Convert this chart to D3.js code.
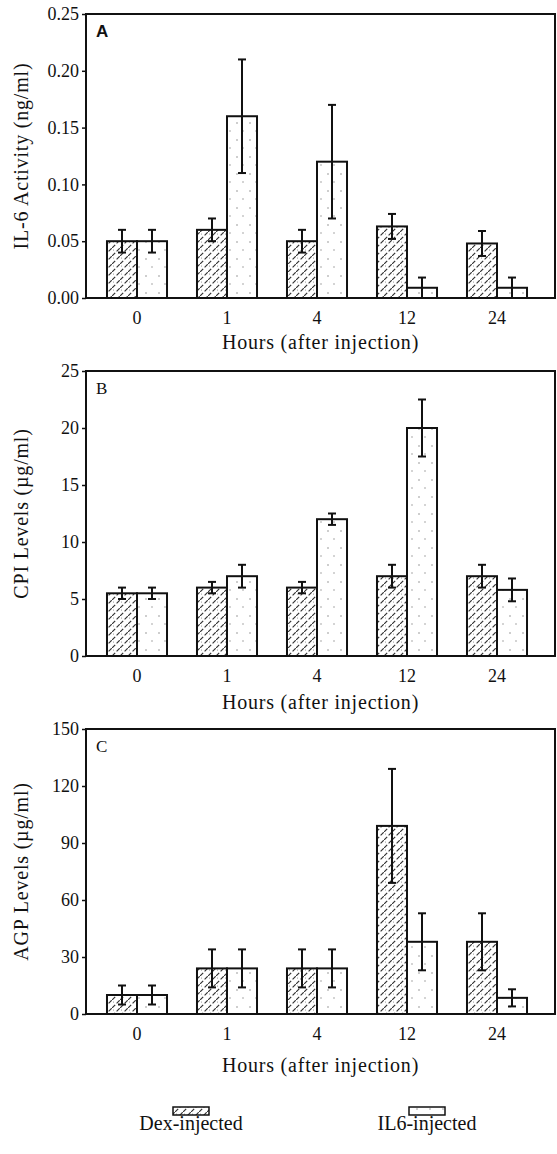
<!DOCTYPE html>
<html>
<head>
<meta charset="utf-8">
<script src="https://cdn.jsdelivr.net/npm/d3@7"></script>
<style>
  body { margin: 0; background: #fff; }
  text { font-family: "Liberation Serif", "Times New Roman", serif; fill: #111; }
</style>
</head>
<body>
<div id="chart"></div>
<script>
// data (mean and error for each group)
var hours = ["0", "1", "4", "12", "24"];
var series = ["Dex-injected", "IL6-injected"];

var il6Dex = [0.05, 0.06, 0.05, 0.063, 0.048];
var il6DexErr = [0.01, 0.01, 0.01, 0.011, 0.011];
var il6Il6 = [0.05, 0.16, 0.12, 0.009, 0.009];
var il6Il6Err = [0.01, 0.05, 0.05, 0.009, 0.009];

var cpiDex = [5.5, 6, 6, 7, 7];
var cpiDexErr = [0.5, 0.5, 0.5, 1, 1];
var cpiIl6 = [5.5, 7, 12, 20, 5.8];
var cpiIl6Err = [0.5, 1, 0.5, 2.5, 1];

var agpDex = [10, 24, 24, 99, 38];
var agpDexErr = [5, 10, 10, 30, 15];
var agpIl6 = [10, 24, 24, 38, 8.5];
var agpIl6Err = [5, 10, 10, 15, 4.5];

var ticksA = [0, 0.05, 0.10, 0.15, 0.20, 0.25];
var ticksB = [0, 5, 10, 15, 20, 25];
var ticksC = [0, 30, 60, 90, 120, 150];

var width = 557;
var height = 1154;
var left = 86, right = 555;

var panels = [
  {letter: "A", title: "IL-6 Activity (ng/ml)", top: 14, bottom: 298, ticks: ticksA, fmt: d3.format(".2f"),
   dex: il6Dex, dexErr: il6DexErr, il6: il6Il6, il6Err: il6Il6Err, letterFont: "Liberation Sans", titleGap: 51},
  {letter: "B", title: "CPI Levels (\u00b5g/ml)", top: 371, bottom: 656, ticks: ticksB, fmt: d3.format("d"),
   dex: cpiDex, dexErr: cpiDexErr, il6: cpiIl6, il6Err: cpiIl6Err, letterFont: "Liberation Serif", titleGap: 53},
  {letter: "C", title: "AGP Levels (\u00b5g/ml)", top: 729, bottom: 1014, ticks: ticksC, fmt: d3.format("d"),
   dex: agpDex, dexErr: agpDexErr, il6: agpIl6, il6Err: agpIl6Err, letterFont: "Liberation Serif", titleGap: 58}
];

var svg = d3.select("#chart")
            .append("svg")
            .attr("width", width)
            .attr("height", height);

// fill patterns: dashed diagonal hatch for Dex, sparse stipple for IL6
var defs = svg.append("defs");
var hatch = defs.append("pattern")
            .attr("id", "hatch")
            .attr("patternUnits", "userSpaceOnUse")
            .attr("width", 8)
            .attr("height", 8);
hatch.append("rect").attr("width", 8).attr("height", 8).attr("fill", "#fff");
hatch.append("path")
     .attr("d", "M0,8 L8,0")
     .attr("stroke", "#333")
     .attr("stroke-width", 1.2)
     .attr("stroke-dasharray", "4.5,2");
hatch.append("circle").attr("cx", 1.5).attr("cy", 2).attr("r", 0.5).attr("fill", "#777");

var dots = defs.append("pattern")
            .attr("id", "dots")
            .attr("patternUnits", "userSpaceOnUse")
            .attr("width", 13)
            .attr("height", 17);
dots.append("rect").attr("width", 13).attr("height", 17).attr("fill", "#fff");
dots.append("circle").attr("cx", 3).attr("cy", 4).attr("r", 0.7).attr("fill", "#777");
dots.append("circle").attr("cx", 9).attr("cy", 12).attr("r", 0.7).attr("fill", "#888");

var fills = {"Dex-injected": "url(#hatch)", "IL6-injected": "url(#dots)"};

var x = d3.scaleBand()
          .domain(hours)
          .range([92, 542])
          .paddingInner(0.333)
          .paddingOuter(0.1665);
var xs = d3.scaleBand()
           .domain(series)
           .range([0, x.bandwidth()]);

panels.forEach(function(p) {
  var y = d3.scaleLinear()
            .domain([p.ticks[0], p.ticks[p.ticks.length - 1]])
            .range([p.bottom, p.top]);
  var g = svg.append("g");

  var rows = [];
  hours.forEach(function(h, i) {
    rows.push({hour: h, s: series[0], v: p.dex[i], e: p.dexErr[i]});
    rows.push({hour: h, s: series[1], v: p.il6[i], e: p.il6Err[i]});
  });

  // bars
  g.selectAll("rect.bar")
   .data(rows)
   .enter()
   .append("rect")
   .attr("class", "bar")
   .attr("x", function(d) { return x(d.hour) + xs(d.s); })
   .attr("y", function(d) { return y(d.v); })
   .attr("width", xs.bandwidth())
   .attr("height", function(d) { return y(0) - y(d.v); })
   .attr("fill", function(d) { return fills[d.s]; })
   .attr("stroke", "#111")
   .attr("stroke-width", 2);

  // error bars
  var eb = g.selectAll("g.err")
            .data(rows)
            .enter()
            .append("g")
            .attr("class", "err")
            .attr("stroke", "#111")
            .attr("stroke-width", 2);
  var cx = function(d) { return x(d.hour) + xs(d.s) + xs.bandwidth() / 2; };
  eb.append("line")
    .attr("x1", cx).attr("x2", cx)
    .attr("y1", function(d) { return y(d.v + d.e); })
    .attr("y2", function(d) { return y(Math.max(0, d.v - d.e)); });
  [1, -1].forEach(function(sign) {
    eb.append("line")
      .attr("x1", function(d) { return cx(d) - 4; })
      .attr("x2", function(d) { return cx(d) + 4; })
      .attr("y1", function(d) { return y(Math.max(0, d.v + sign * d.e)); })
      .attr("y2", function(d) { return y(Math.max(0, d.v + sign * d.e)); });
  });

  // frame
  g.append("rect")
   .attr("x", left)
   .attr("y", p.top)
   .attr("width", right - left)
   .attr("height", p.bottom - p.top)
   .attr("fill", "none")
   .attr("stroke", "#111")
   .attr("stroke-width", 2);

  // y axis
  var ya = g.append("g")
            .attr("transform", "translate(" + left + ",0)")
            .call(d3.axisLeft(y).tickValues(p.ticks).tickFormat(p.fmt).tickSize(4).tickPadding(3));
  ya.select(".domain").remove();
  ya.selectAll("line").attr("stroke", "#111").attr("stroke-width", 1.5);
  ya.selectAll("text")
    .attr("font-family", "Liberation Serif")
    .attr("font-size", 18)
    .attr("fill", "#111");

  // x axis
  var xa = g.append("g")
            .attr("transform", "translate(0," + p.bottom + ")")
            .call(d3.axisBottom(x).tickSize(0).tickPadding(13));
  xa.select(".domain").remove();
  xa.selectAll("text")
    .attr("font-family", "Liberation Serif")
    .attr("font-size", 18)
    .attr("fill", "#111");

  g.append("text")
   .attr("x", (left + right) / 2)
   .attr("y", p.bottom + p.titleGap)
   .attr("text-anchor", "middle")
   .attr("font-size", 20)
   .attr("letter-spacing", 0.8)
   .text("Hours (after injection)");

  g.append("text")
   .attr("transform", "translate(28," + ((p.top + p.bottom) / 2) + ") rotate(-90)")
   .attr("text-anchor", "middle")
   .attr("font-size", 20)
   .attr("letter-spacing", 0.8)
   .text(p.title);

  g.append("text")
   .attr("x", 96)
   .attr("y", p.top + 23)
   .attr("font-size", 17)
   .attr("font-weight", p.letter === "A" ? "bold" : "normal")
   .style("font-family", p.letterFont)
   .text(p.letter);
});

// legend
var legendX = {"Dex-injected": 191, "IL6-injected": 427};
var lg = svg.selectAll("g.legend")
            .data(series)
            .enter()
            .append("g")
            .attr("class", "legend")
            .attr("transform", function(d) { return "translate(" + legendX[d] + ",0)"; });
lg.append("rect")
  .attr("x", -18)
  .attr("y", 1107)
  .attr("width", 36)
  .attr("height", 8)
  .attr("fill", function(d) { return fills[d]; })
  .attr("stroke", "#111")
  .attr("stroke-width", 1.5);
lg.append("text")
  .attr("y", 1130)
  .attr("text-anchor", "middle")
  .attr("font-size", 20)
  .text(function(d) { return d; });
</script>
</body>
</html>
